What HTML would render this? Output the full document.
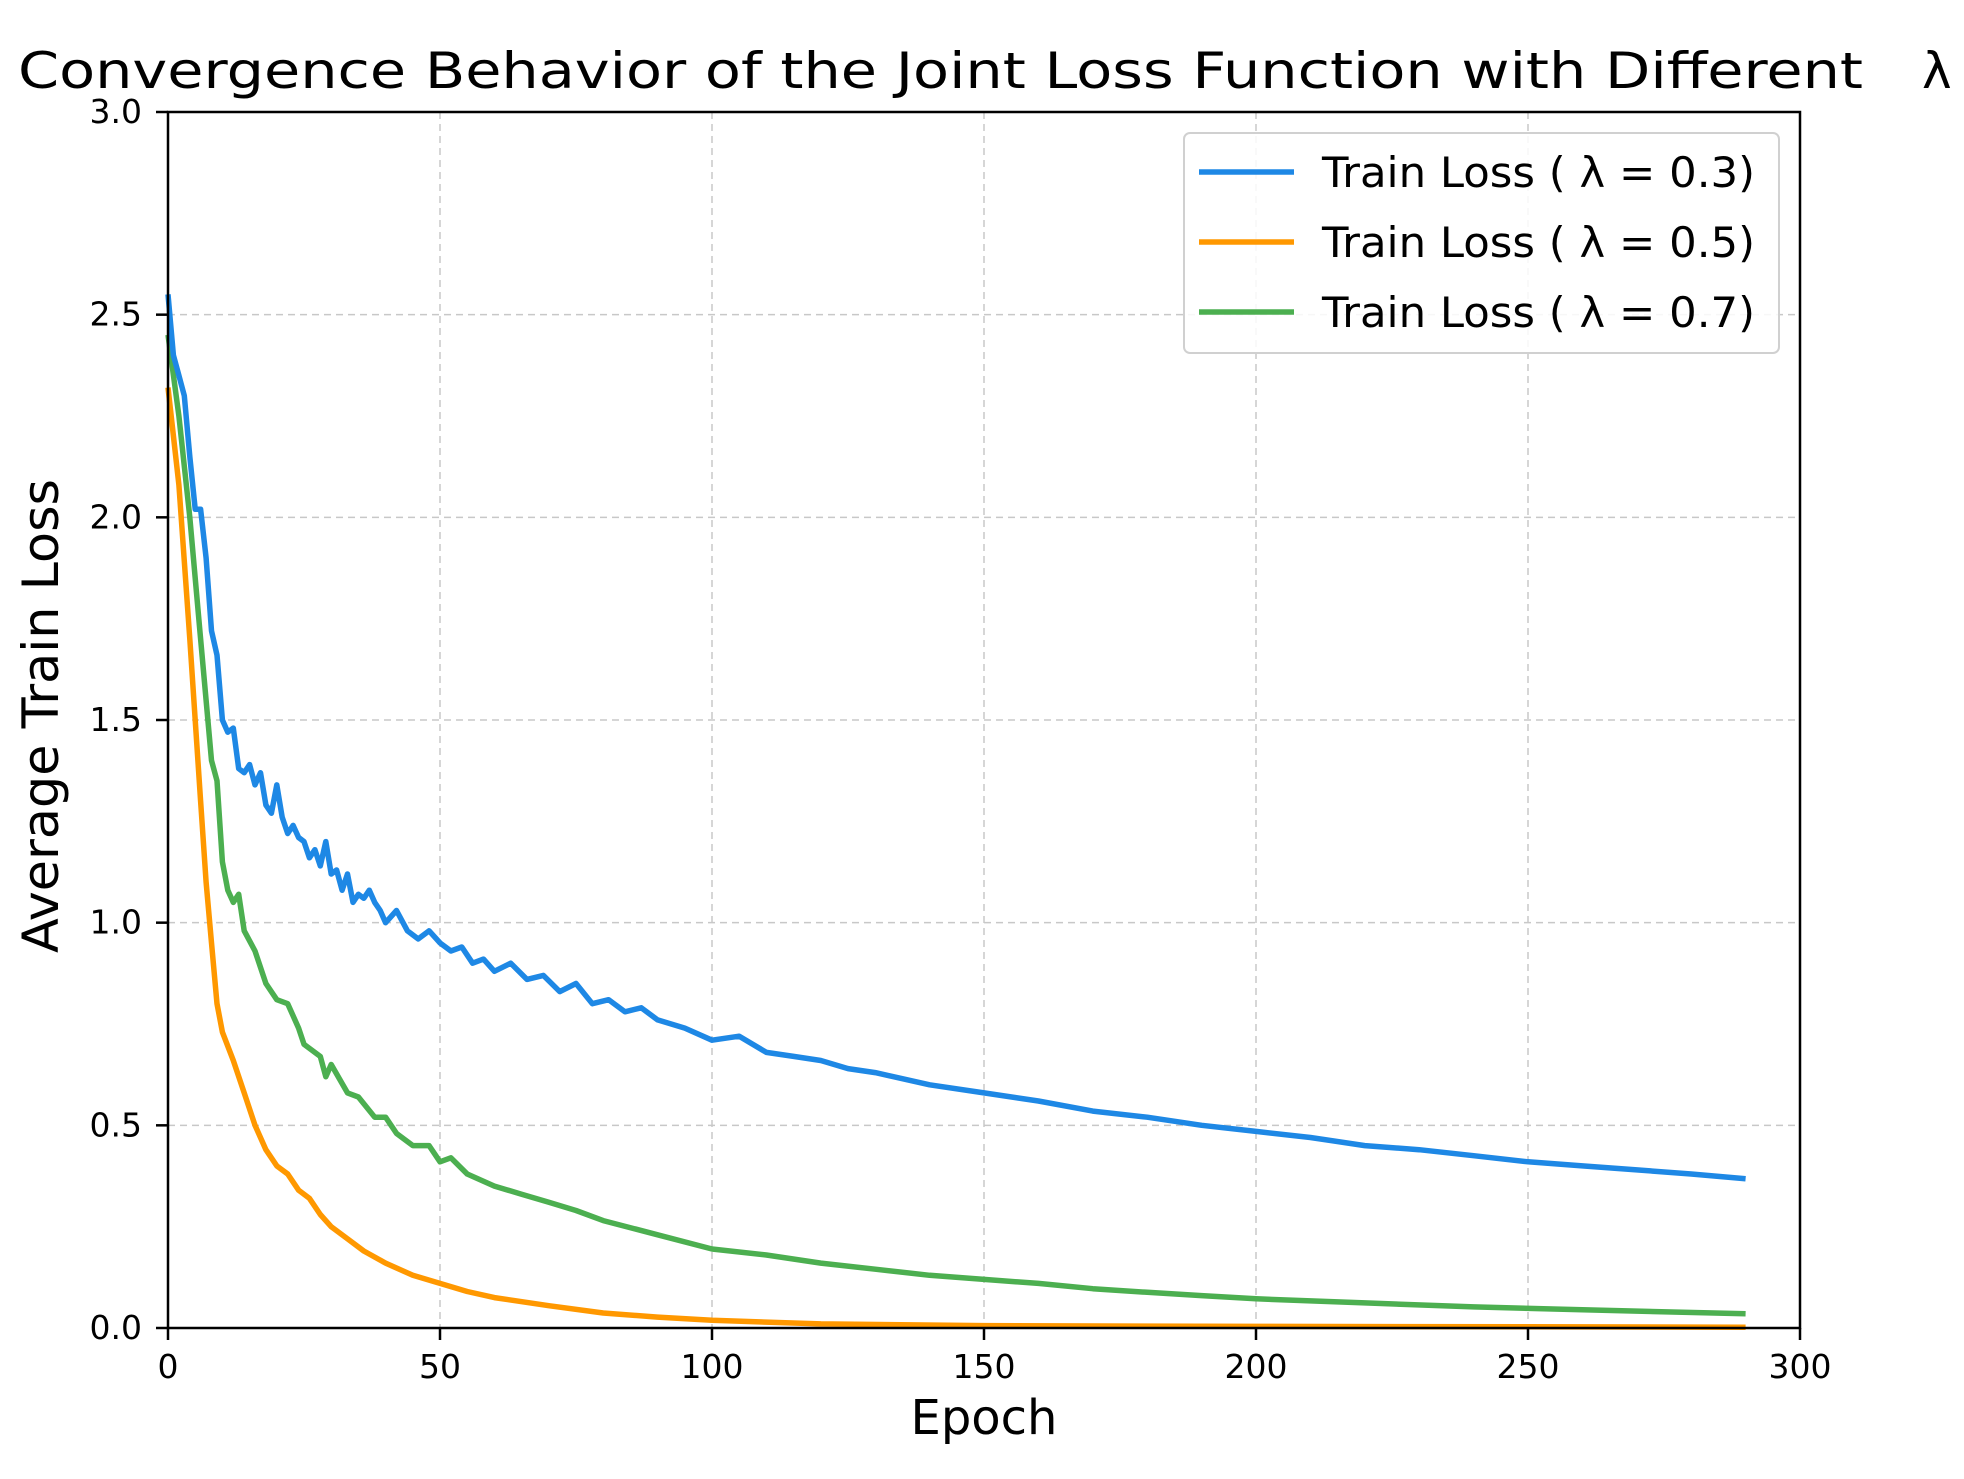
<!DOCTYPE html>
<html><head><meta charset="utf-8"><style>
html,body{margin:0;padding:0;background:#fff}
svg{display:block;font-family:"DejaVu Sans","Liberation Sans",sans-serif}
</style></head><body>
<svg id="chart" width="1964" height="1479" viewBox="0 0 1964 1479" xmlns="http://www.w3.org/2000/svg">
<text x="18" y="88" font-size="50" textLength="1845" lengthAdjust="spacingAndGlyphs">Convergence Behavior of the Joint Loss Function with Different</text>
<text x="1922" y="88" font-size="50">λ</text>
<g id="grid"></g>
<g id="series"></g>
<rect x="168" y="112" width="1632" height="1216" fill="none" stroke="#000" stroke-width="2.5"/>
<g id="ticks"></g>
<text x="984" y="1434" font-size="48" text-anchor="middle">Epoch</text>
<text transform="translate(58,716) rotate(-90)" font-size="50" text-anchor="middle" textLength="474" lengthAdjust="spacingAndGlyphs">Average Train Loss</text>
<g>
<rect x="1184" y="133" width="595" height="220" rx="6" fill="#fff" fill-opacity="0.85" stroke="#d0d0d0" stroke-width="2"/>
<line x1="1199" x2="1294" y1="172" y2="172" stroke="#1e88e5" stroke-width="5.5"/>
<text x="1322" y="187" font-size="42" textLength="433" lengthAdjust="spacingAndGlyphs">Train Loss ( λ = 0.3)</text>
<line x1="1199" x2="1294" y1="242" y2="242" stroke="#ff9800" stroke-width="5.5"/>
<text x="1322" y="257" font-size="42" textLength="433" lengthAdjust="spacingAndGlyphs">Train Loss ( λ = 0.5)</text>
<line x1="1199" x2="1294" y1="312" y2="312" stroke="#4caf50" stroke-width="5.5"/>
<text x="1322" y="327" font-size="42" textLength="433" lengthAdjust="spacingAndGlyphs">Train Loss ( λ = 0.7)</text>
</g>
</svg>
<script>
const xTicks=[0,50,100,150,200,250,300];
const yTicks=[0.0,0.5,1.0,1.5,2.0,2.5,3.0];
const epochsBlue=[0,1,2,3,4,5,6,7,8,9,10,11,12,13,14,15,16,17,18,19,20,21,22,23,24,25,26,27,28,29,30,31,32,33,34,35,36,37,38,39,40,42,44,46,48,50,52,54,56,58,60,63,66,69,72,75,78,81,84,87,90,95,100,105,110,115,120,125,130,140,150,160,170,180,190,200,210,220,230,240,250,260,270,280,290];
const lossBlue=[2.55,2.4,2.35,2.3,2.15,2.02,2.02,1.9,1.72,1.66,1.5,1.47,1.48,1.38,1.37,1.39,1.34,1.37,1.29,1.27,1.34,1.26,1.22,1.24,1.21,1.2,1.16,1.18,1.14,1.2,1.12,1.13,1.08,1.12,1.05,1.07,1.06,1.08,1.05,1.03,1.0,1.03,0.98,0.96,0.98,0.95,0.93,0.94,0.9,0.91,0.88,0.9,0.86,0.87,0.83,0.85,0.8,0.81,0.78,0.79,0.76,0.74,0.71,0.72,0.68,0.67,0.66,0.64,0.63,0.6,0.58,0.56,0.535,0.52,0.5,0.485,0.47,0.45,0.44,0.425,0.41,0.4,0.39,0.38,0.368];
const epochsOrange=[0,2,4,6,7,8,9,10,12,14,16,18,20,22,24,26,28,30,33,36,40,45,50,55,60,70,80,90,100,120,150,200,250,290];
const lossOrange=[2.32,2.08,1.7,1.3,1.1,0.95,0.8,0.73,0.66,0.58,0.5,0.44,0.4,0.38,0.34,0.32,0.28,0.25,0.22,0.19,0.16,0.13,0.11,0.09,0.075,0.055,0.037,0.027,0.019,0.01,0.006,0.004,0.003,0.002];
const epochsGreen=[0,2,4,6,8,9,10,11,12,13,14,16,18,20,22,24,25,28,29,30,33,35,38,40,42,45,48,50,52,55,60,65,70,75,80,90,100,110,120,130,140,150,160,170,180,190,200,220,240,260,290];
const lossGreen=[2.45,2.25,2.0,1.7,1.4,1.35,1.15,1.08,1.05,1.07,0.98,0.93,0.85,0.81,0.8,0.74,0.7,0.67,0.62,0.65,0.58,0.57,0.52,0.52,0.48,0.45,0.45,0.41,0.42,0.38,0.35,0.33,0.31,0.29,0.265,0.23,0.195,0.18,0.16,0.145,0.13,0.12,0.11,0.097,0.088,0.08,0.072,0.062,0.052,0.045,0.035];
const X0=168,X1=1800,Y0=1328,Y1=112;
function sx(v){return X0+(v-0)/(300-0)*(X1-X0);}
function sy(v){return Y0-(v-0)/(3-0)*(Y0-Y1);}
const NS='http://www.w3.org/2000/svg';
const grid=document.getElementById('grid'),ticks=document.getElementById('ticks'),series=document.getElementById('series');
function mk(tag,attrs,parent){const e=document.createElementNS(NS,tag);for(const k in attrs)e.setAttribute(k,attrs[k]);parent.appendChild(e);return e;}
xTicks.forEach(t=>{
  const x=sx(t);
  const g=mk('line',{x1:x,x2:x,y1:Y1,y2:Y0,stroke:'#c8c8c8','stroke-width':1.5,'stroke-dasharray':'7,5'},grid);
  
  
  const tk=mk('line',{x1:x,x2:x,y1:Y0,y2:Y0+12,stroke:'#000','stroke-width':2.5},ticks);
  
  
  const tl=mk('text',{x:x,y:Y0+50,'font-size':33,'text-anchor':'middle'},ticks);
  tl.textContent=String(t);
  
  
});
yTicks.forEach(t=>{
  const y=sy(t);
  const g=mk('line',{x1:X0,x2:X1,y1:y,y2:y,stroke:'#c8c8c8','stroke-width':1.5,'stroke-dasharray':'7,5'},grid);
  
  
  const tk=mk('line',{x1:X0-12,x2:X0,y1:y,y2:y,stroke:'#000','stroke-width':2.5},ticks);
  
  
  const tl=mk('text',{x:X0-26,y:y+11,'font-size':33,'text-anchor':'end'},ticks);
  tl.textContent=t.toFixed(1);
  
  
});
function drawLine(xs,ys,color,name){
  const d=xs.map((e,i)=>(i?'L':'M')+sx(e).toFixed(1)+','+sy(ys[i]).toFixed(1)).join('');
  const p=mk('path',{d:d,fill:'none',stroke:color,'stroke-width':5.5,'stroke-linejoin':'round'},series);
  
  
}
drawLine(epochsOrange,lossOrange,'#ff9800','line-lambda-0.5');
drawLine(epochsGreen,lossGreen,'#4caf50','line-lambda-0.7');
drawLine(epochsBlue,lossBlue,'#1e88e5','line-lambda-0.3');
</script>
</body></html>
